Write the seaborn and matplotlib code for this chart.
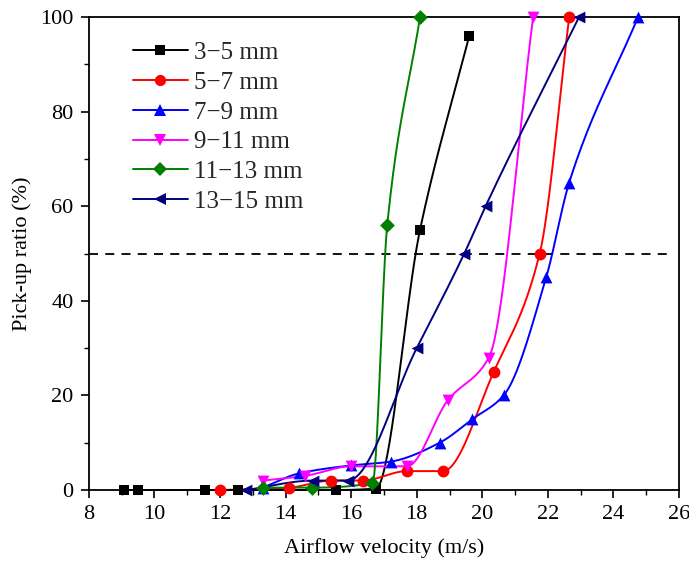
import numpy as np
import pandas as pd
import matplotlib
matplotlib.use("Agg")
import matplotlib.pyplot as plt
import seaborn as sns
from matplotlib.ticker import MultipleLocator
from matplotlib.lines import Line2D

# Pick-up ratio measurements for each particle size class
labels = ["3\u22125 mm", "5\u22127 mm", "7\u22129 mm", "9\u221211 mm", "11\u221213 mm", "13\u221215 mm"]

v_3_5 = [9.07, 9.5, 11.55, 12.55, 15.55, 16.75, 18.1, 19.6]
r_3_5 = [0, 0, 0, 0, 0, 0.3, 55, 96]

v_5_7 = [12.0, 14.1, 15.4, 16.35, 17.7, 18.8, 20.35, 21.75, 22.65]
r_5_7 = [0, 0.5, 2, 2, 4, 4, 25, 50, 100]

v_7_9 = [13.3, 14.4, 16.0, 17.2, 18.7, 19.7, 20.65, 21.95, 22.65, 24.75]
r_7_9 = [0.5, 3.5, 5.2, 6, 10, 15, 20, 45, 65, 100]

v_9_11 = [13.3, 14.6, 16.0, 17.7, 18.95, 20.2, 21.55]
r_9_11 = [2, 3, 5, 5, 19, 28, 100]

v_11_13 = [13.3, 14.8, 16.65, 17.1, 18.1]
r_11_13 = [0.5, 0.5, 1.5, 56, 100]

v_13_15 = [12.8, 14.85, 15.9, 18.0, 19.45, 20.1, 22.95]
r_13_15 = [0, 2, 2, 30, 50, 60, 100]

velocities = [v_3_5, v_5_7, v_7_9, v_9_11, v_11_13, v_13_15]
ratios = [r_3_5, r_5_7, r_7_9, r_9_11, r_11_13, r_13_15]

colors = ["black", "red", "blue", "magenta", "green", "navy"]
markers = ["s", "o", "^", "v", "D", "<"]
msizes = [7.5, 8.5, 8.5, 8.5, 7.5, 8.5]

df = pd.concat(
    [pd.DataFrame({"velocity": v, "ratio": r, "size": lab})
     for v, r, lab in zip(velocities, ratios, labels)],
    ignore_index=True,
)


def pchip_curve(x, y, n=40):
    """Shape-preserving cubic (Fritsch-Carlson) curve through the points."""
    x = np.asarray(x, float)
    y = np.asarray(y, float)
    h = np.diff(x)
    d = np.diff(y) / h
    m = np.zeros_like(x)
    for k in range(1, len(x) - 1):
        if d[k - 1] * d[k] > 0:
            w1 = 2 * h[k] + h[k - 1]
            w2 = h[k] + 2 * h[k - 1]
            m[k] = (w1 + w2) / (w1 / d[k - 1] + w2 / d[k])
    m[0] = d[0]
    m[-1] = d[-1]
    xs, ys = [], []
    for k in range(len(x) - 1):
        t = np.linspace(0, 1, n)
        h00 = 2 * t ** 3 - 3 * t ** 2 + 1
        h10 = t ** 3 - 2 * t ** 2 + t
        h01 = -2 * t ** 3 + 3 * t ** 2
        h11 = t ** 3 - t ** 2
        xs.append(x[k] + t * h[k])
        ys.append(h00 * y[k] + h10 * h[k] * m[k] + h01 * y[k + 1] + h11 * h[k] * m[k + 1])
    return np.concatenate(xs), np.concatenate(ys)


sns.set_theme(style="ticks")
plt.rcParams["font.family"] = ["Liberation Serif", "DejaVu Serif"]

fig = plt.figure(figsize=(6.89, 5.69), dpi=100)
ax = fig.add_axes([0.129, 0.1388, 0.8565, 0.8312])

ax.axhline(50, xmin=0, xmax=0.985, color="black", lw=1.3, ls=(0, (5, 4)), zorder=1)

for lab, c, m, ms, v, r in zip(labels, colors, markers, msizes, velocities, ratios):
    cx, cy = pchip_curve(v, r)
    ax.plot(cx, cy, color=c, lw=1.4, zorder=2, clip_on=False)
    sns.scatterplot(data=df[df["size"] == lab], x="velocity", y="ratio",
                    color=c, marker=m, s=ms ** 2, edgecolor=c, linewidth=0,
                    ax=ax, zorder=3, clip_on=False, legend=False)

ax.set_xlim(8, 26)
ax.set_ylim(0, 100)
ax.xaxis.set_major_locator(MultipleLocator(2))
ax.xaxis.set_minor_locator(MultipleLocator(1))
ax.yaxis.set_major_locator(MultipleLocator(20))
ax.yaxis.set_minor_locator(MultipleLocator(10))
ax.tick_params(which="major", direction="out", length=6, width=1.2, labelsize=16,
               color="black", labelcolor="black", pad=5)
ax.tick_params(which="minor", direction="out", length=3.5, width=1.0, color="black")
for s in ax.spines.values():
    s.set_linewidth(1.3)
    s.set_color("black")

ax.set_xlabel("Airflow velocity (m/s)", fontsize=16, labelpad=10, color="black")
ax.set_ylabel("Pick-up ratio (%)", fontsize=16, labelpad=6, color="black")

handles = [Line2D([0], [0], color=c, marker=m, markersize=ms * 0.95, lw=1.4,
                  markeredgewidth=0)
           for c, m, ms in zip(colors, markers, msizes)]
ax.legend(handles, labels, loc="upper left", bbox_to_anchor=(0.045, 0.985),
          frameon=False, fontsize=18, handlelength=2.2, labelspacing=0.29,
          handletextpad=0.25, borderaxespad=0.3)

fig.savefig("out.png", dpi=100)
